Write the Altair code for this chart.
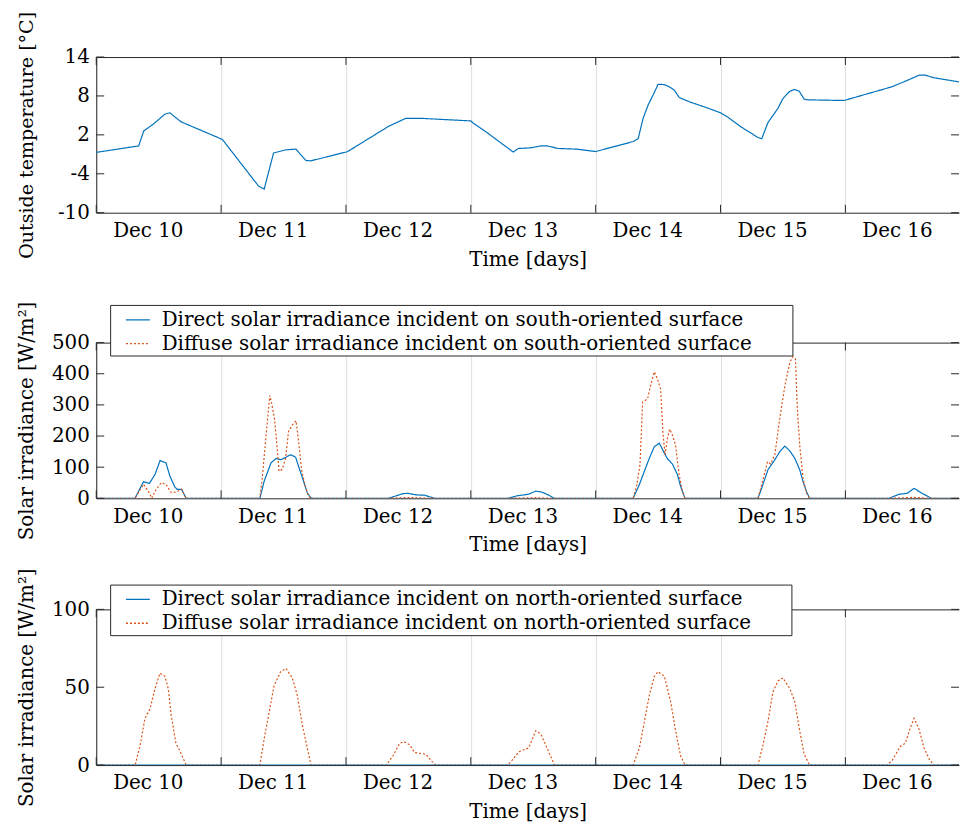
import json
import altair as alt
import pandas as pd

FONT = "DejaVu Serif"
BLUE = "#0072BD"
ORANGE = "#D95319"
AX = "#262626"
GRID = "#dfdfdf"

# ---------------- data ----------------
day_ticks = [0, 1, 2, 3, 4, 5, 6]
day_labels = ["Dec 10", "Dec 11", "Dec 12", "Dec 13", "Dec 14", "Dec 15", "Dec 16"]
x_domain = [0, 6.91]

temp_t = [0.00, 0.34, 0.38, 0.46, 0.55, 0.59, 0.64, 0.68, 1.01, 1.30, 1.345, 1.385,
          1.42, 1.52, 1.60, 1.64, 1.68, 1.72, 2.01, 2.07, 2.34, 2.48, 2.60, 3.00,
          3.02, 3.13, 3.34, 3.38, 3.48, 3.56, 3.61, 3.70, 3.85, 4.00, 4.30, 4.34,
          4.38, 4.42, 4.46, 4.50, 4.55, 4.59, 4.63, 4.67, 4.75, 4.88, 5.00, 5.06,
          5.17, 5.30, 5.33, 5.38, 5.46, 5.50, 5.55, 5.59, 5.63, 5.67, 5.70, 5.99,
          6.37, 6.49, 6.59, 6.64, 6.71, 6.93]
temp_v = [-0.7, 0.3, 2.6, 3.7, 5.2, 5.4, 4.6, 4.0, 1.3, -5.9, -6.35, -3.4,
          -0.8, -0.3, -0.2, -1.1, -1.95, -2.0, -0.6, 0.1, 3.3, 4.55, 4.55, 4.15,
          3.8, 2.35, -0.66, -0.1, 0.0, 0.3, 0.3, -0.1, -0.2, -0.57, 0.97, 1.4,
          4.55, 6.6, 8.15, 9.8, 9.75, 9.4, 8.9, 7.75, 7.1, 6.25, 5.4, 4.7,
          3.15, 1.6, 1.4, 3.9, 6.1, 7.6, 8.65, 9.0, 8.75, 7.5, 7.4, 7.3,
          9.4, 10.35, 11.2, 11.2, 10.8, 10.1]
temp_ticks = [-10, -4, 2, 8, 14]

south_direct_t = [0, 0.31, 0.378, 0.426, 0.471, 0.511, 0.558, 0.59, 0.63, 0.648, 0.683, 0.72,
                  1.31, 1.345, 1.40, 1.44, 1.48, 1.52, 1.557, 1.597, 1.62, 1.66, 1.69, 1.716, 1.73,
                  2.34, 2.457, 2.497, 2.56, 2.63, 2.71,
                  3.30, 3.37, 3.46, 3.52, 3.57, 3.62, 3.67,
                  4.30, 4.35, 4.39, 4.43, 4.47, 4.51, 4.55, 4.575, 4.615, 4.655, 4.68, 4.715,
                  5.30, 5.335, 5.38, 5.435, 5.475, 5.515, 5.555, 5.594, 5.634, 5.66, 5.687, 5.713,
                  6.35, 6.43, 6.495, 6.55, 6.615, 6.69, 6.93]
south_direct_v = [0, 0, 53, 48, 77, 121, 114, 71, 36, 29, 29, 0,
                  0, 55, 114, 128, 124, 132, 140, 132, 103, 55, 18, 2, 0,
                  0, 15, 16, 11, 10, 0,
                  0, 8, 13, 23, 20, 11, 0,
                  0, 44, 87, 129, 166, 177, 145, 127, 110, 76, 39, 0,
                  0, 39, 92, 124, 150, 168, 152, 129, 92, 55, 23, 0,
                  0, 13, 16, 32, 16, 0, 0]

south_diffuse_t = [0, 0.31, 0.378, 0.42, 0.445, 0.48, 0.52, 0.558, 0.60, 0.645, 0.683, 0.72,
                   1.31, 1.33, 1.358, 1.39, 1.405, 1.427, 1.44, 1.464, 1.49, 1.517, 1.54, 1.575,
                   1.60, 1.617, 1.644, 1.67, 1.70, 1.72,
                   2.34, 2.46, 2.55, 2.71, 3.30, 3.52, 3.67,
                   4.30, 4.33, 4.355, 4.376, 4.416, 4.44, 4.47, 4.495, 4.52, 4.54, 4.556, 4.575,
                   4.593, 4.615, 4.64, 4.668, 4.695, 4.715,
                   5.30, 5.34, 5.377, 5.40, 5.435, 5.467, 5.49, 5.52, 5.555, 5.58, 5.60, 5.615,
                   5.634, 5.66, 5.687, 5.713,
                   6.35, 6.55, 6.69, 6.93]
south_diffuse_v = [0, 0, 45, 21, 0, 29, 50, 45, 18, 21, 29, 0,
                   0, 66, 194, 330, 305, 257, 204, 87, 93, 130, 215, 238,
                   249, 194, 93, 45, 7, 0,
                   0, 2, 2, 0, 0, 2, 0,
                   0, 44, 108, 309, 320, 362, 406, 383, 351, 203, 140, 193,
                   222, 203, 171, 76, 23, 0,
                   0, 60, 118, 110, 140, 235, 298, 372, 436, 455, 447, 288,
                   171, 66, 18, 0,
                   0, 3, 0, 0]
south_ticks = [0, 100, 200, 300, 400, 500]

north_direct_t = [0, 6.93]
north_direct_v = [0, 0]
north_diffuse_t = [0, 0.312, 0.352, 0.39, 0.43, 0.47, 0.51, 0.55, 0.577, 0.60, 0.638, 0.67, 0.72,
                   1.31, 1.345, 1.385, 1.424, 1.477, 1.52, 1.57, 1.61, 1.65, 1.69, 1.72,
                   2.324, 2.377, 2.43, 2.465, 2.51, 2.55, 2.64, 2.68, 2.72,
                   3.296, 3.33, 3.384, 3.463, 3.52, 3.56, 3.61, 3.67,
                   4.30, 4.35, 4.39, 4.43, 4.47, 4.50, 4.55, 4.60, 4.64, 4.68, 4.715,
                   5.30, 5.34, 5.38, 5.42, 5.46, 5.50, 5.555, 5.594, 5.634, 5.67, 5.713,
                   6.335, 6.375, 6.44, 6.48, 6.52, 6.55, 6.59, 6.63, 6.67, 6.706, 6.93]
north_diffuse_v = [0, 0, 13, 30, 36, 49, 59, 57, 49, 32, 14, 9, 0,
                   0, 17, 34, 51, 60, 62, 56, 45, 26, 11, 0,
                   0, 6, 14, 15, 13, 8, 7, 3, 0,
                   0, 3, 8.5, 11, 22, 20, 11, 0,
                   0, 11, 28, 45, 57, 60, 57, 41, 22, 6, 0,
                   0, 13, 28, 47, 54, 56, 49, 41, 22, 7, 0,
                   0, 3, 12, 14, 24, 30, 23, 11, 4, 0, 0]
north_ticks = [0, 50, 100]

south_names = ["Direct solar irradiance incident on south-oriented surface",
               "Diffuse solar irradiance incident on south-oriented surface"]
north_names = ["Direct solar irradiance incident on north-oriented surface",
               "Diffuse solar irradiance incident on north-oriented surface"]

# ---------------- layout ----------------
W = 870
H = 157
TICK = 8
PAD_LABEL = "\u00a0" * 6 + "\u200b"


def panel(series, y_ticks, y_domain, y_title, legend_names=None, legend_y=None,
          title_size=20):
    xs = alt.Scale(domain=x_domain, nice=False, zero=False)
    ys = alt.Scale(domain=y_domain, nice=False, zero=False)
    x_axis = alt.Axis(values=day_ticks,
                      labelExpr=json.dumps(day_labels) + "[round(datum.value)]",
                      labelOffset=52, labelFlush=False, labelOverlap=False,
                      grid=True, gridColor=GRID, gridWidth=1,
                      ticks=False, tickSize=0, domainColor=AX, domainWidth=1,
                      labelFont=FONT, labelFontSize=20, labelColor="black", labelPadding=8,
                      title="Time [days]", titleFont=FONT, titleFontSize=20,
                      titleFontWeight="normal", titleColor="black", titlePadding=9)
    y_axis = alt.Axis(values=y_ticks, labelExpr="datum.value + ''",
                      grid=False, ticks=False, tickSize=0, domainColor=AX, domainWidth=1,
                      labelFont=FONT, labelFontSize=20, labelColor="black", labelPadding=7,
                      title=y_title, titleFont=FONT, titleFontSize=title_size,
                      titleFontWeight="normal", titleColor="black", titleX=-70,
                      titleBaseline="middle")
    layers = []
    for i, (name, t, v, col, dash) in enumerate(series):
        df = pd.DataFrame({"t": t, "v": v, "s": name})
        enc = dict(
            x=alt.X("t:Q", scale=xs, axis=x_axis if i == 0 else None),
            y=alt.Y("v:Q", scale=ys, axis=y_axis),
        )
        if legend_names is None:
            mark = alt.Chart(df).mark_line(clip=True, strokeWidth=1.2, color=col,
                                           strokeDash=dash)
        else:
            cols = [dict((s[0], s[3]) for s in series)[n] for n in legend_names]
            dashes = [dict((s[0], s[4]) for s in series)[n] for n in legend_names]
            leg = alt.Legend(orient="none", legendX=14, legendY=legend_y, title=None,
                             direction="vertical", symbolType="stroke", symbolSize=576,
                             symbolStrokeWidth=1.3, symbolOffset=13, labelOffset=11,
                             labelFont=FONT, labelFontSize=20, labelColor="black",
                             labelLimit=2000, padding=2, rowPadding=1,
                             strokeColor=AX, fillColor="white",
                             labelExpr="datum.label + '" + PAD_LABEL + "'")
            enc["color"] = alt.Color("s:N", scale=alt.Scale(domain=legend_names, range=cols),
                                     legend=leg)
            enc["strokeDash"] = alt.StrokeDash("s:N",
                                               scale=alt.Scale(domain=legend_names, range=dashes),
                                               legend=leg)
            mark = alt.Chart(df).mark_line(clip=True, strokeWidth=1.2)
        layers.append(mark.encode(**enc))

    xt = pd.DataFrame({"t": day_ticks})
    yt = pd.DataFrame({"v": y_ticks})
    top_axis = alt.Chart(xt).mark_point(opacity=0).encode(
        x=alt.X("t:Q", scale=xs, axis=alt.Axis(orient="top", labels=False, ticks=False,
                                               grid=False, title=None, domainColor=AX,
                                               domainWidth=1)))
    bt = alt.Chart(xt).mark_rule(color=AX, strokeWidth=1).encode(
        x=alt.X("t:Q", scale=xs, axis=None), y=alt.value(H), y2=alt.value(H - TICK))
    tt = alt.Chart(xt).mark_rule(color=AX, strokeWidth=1).encode(
        x=alt.X("t:Q", scale=xs, axis=None), y=alt.value(0), y2=alt.value(TICK))
    lt = alt.Chart(yt).mark_rule(color=AX, strokeWidth=1).encode(
        y=alt.Y("v:Q", scale=ys, axis=y_axis), x=alt.value(0), x2=alt.value(TICK))
    rt = alt.Chart(yt).mark_rule(color=AX, strokeWidth=1).encode(
        y=alt.Y("v:Q", scale=ys, axis=y_axis), x=alt.value(W - TICK), x2=alt.value(W))
    return alt.layer(*layers, top_axis, bt, tt, lt, rt).resolve_axis(x="independent").properties(
        width=W, height=H)


top = panel([("Outside temperature", temp_t, temp_v, BLUE, [1, 0])],
            temp_ticks, [-10, 14], "Outside temperature [°C]", title_size=19.2)
mid = panel([(south_names[0], south_direct_t, south_direct_v, BLUE, [1, 0]),
             (south_names[1], south_diffuse_t, south_diffuse_v, ORANGE, [2, 2])],
            south_ticks, [0, 500], "Solar irradiance [W/m²]",
            legend_names=south_names, legend_y=-38)
bot = panel([(north_names[1], north_diffuse_t, north_diffuse_v, ORANGE, [2, 2]),
             (north_names[0], north_direct_t, north_direct_v, BLUE, [1, 0])],
            north_ticks, [0, 100], "Solar irradiance [W/m²]",
            legend_names=north_names, legend_y=-25)

inner = alt.vconcat(mid, bot, spacing=112, bounds="flush").resolve_scale(
    color="independent", strokeDash="independent")
chart = alt.vconcat(top, inner, spacing=131, bounds="flush").properties(
    padding={"left": 8, "top": 0, "right": 0, "bottom": 0},
    background="white",
).configure_view(stroke=None)

chart.save("out.html", embed_options={"renderer": "svg", "actions": False})
